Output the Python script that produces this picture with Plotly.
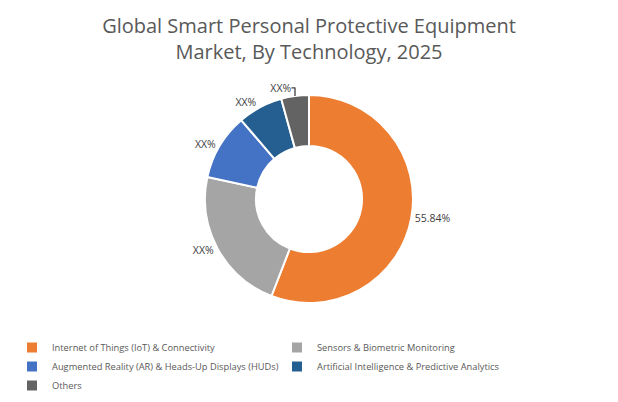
import plotly.graph_objects as go

categories = [
    "Internet of Things (IoT) & Connectivity",
    "Sensors & Biometric Monitoring",
    "Augmented Reality (AR) & Heads-Up Displays (HUDs)",
    "Artificial Intelligence & Predictive Analytics",
    "Others",
]
values = [55.84, 22.5, 10.3, 7.0, 4.3]
value_labels = ["55.84%", "XX%", "XX%", "XX%", "XX%"]
colors = ["#ED7D31", "#A5A5A5", "#4472C4", "#255E91", "#636363"]

W, H = 618, 402
cx, cy, r = 309, 199, 104

fig = go.Figure(go.Pie(
    labels=categories,
    values=values,
    text=value_labels,
    textinfo="text",
    textposition="outside",
    hole=0.51,
    sort=False,
    direction="clockwise",
    rotation=0,
    marker=dict(colors=colors, line=dict(color="white", width=2)),
    textfont=dict(family="Open Sans", size=10.5, color="#404040"),
    domain=dict(x=[(cx - r) / W, (cx + r) / W], y=[1 - (cy + r) / H, 1 - (cy - r) / H]),
    hoverinfo="label+percent",
))

fig.update_layout(
    width=W, height=H,
    margin=dict(l=0, r=0, t=0, b=0),
    paper_bgcolor="white",
    plot_bgcolor="white",
    font=dict(family="Open Sans", color="#595959"),
    title=dict(
        text="Global Smart Personal Protective Equipment<br>Market, By Technology, 2025",
        x=0.5, xanchor="center", y=1 - 33 / H, yanchor="top",
        font=dict(family="Open Sans", size=20, color="#595959"),
    ),
    legend=dict(
        orientation="h",
        x=12 / W, xanchor="left",
        y=1 - 333 / H, yanchor="top",
        entrywidth=220, entrywidthmode="pixels",
        font=dict(family="Open Sans", size=9.3, color="#595959"),
        traceorder="normal",
    ),
)

fig.write_html("out.html")
